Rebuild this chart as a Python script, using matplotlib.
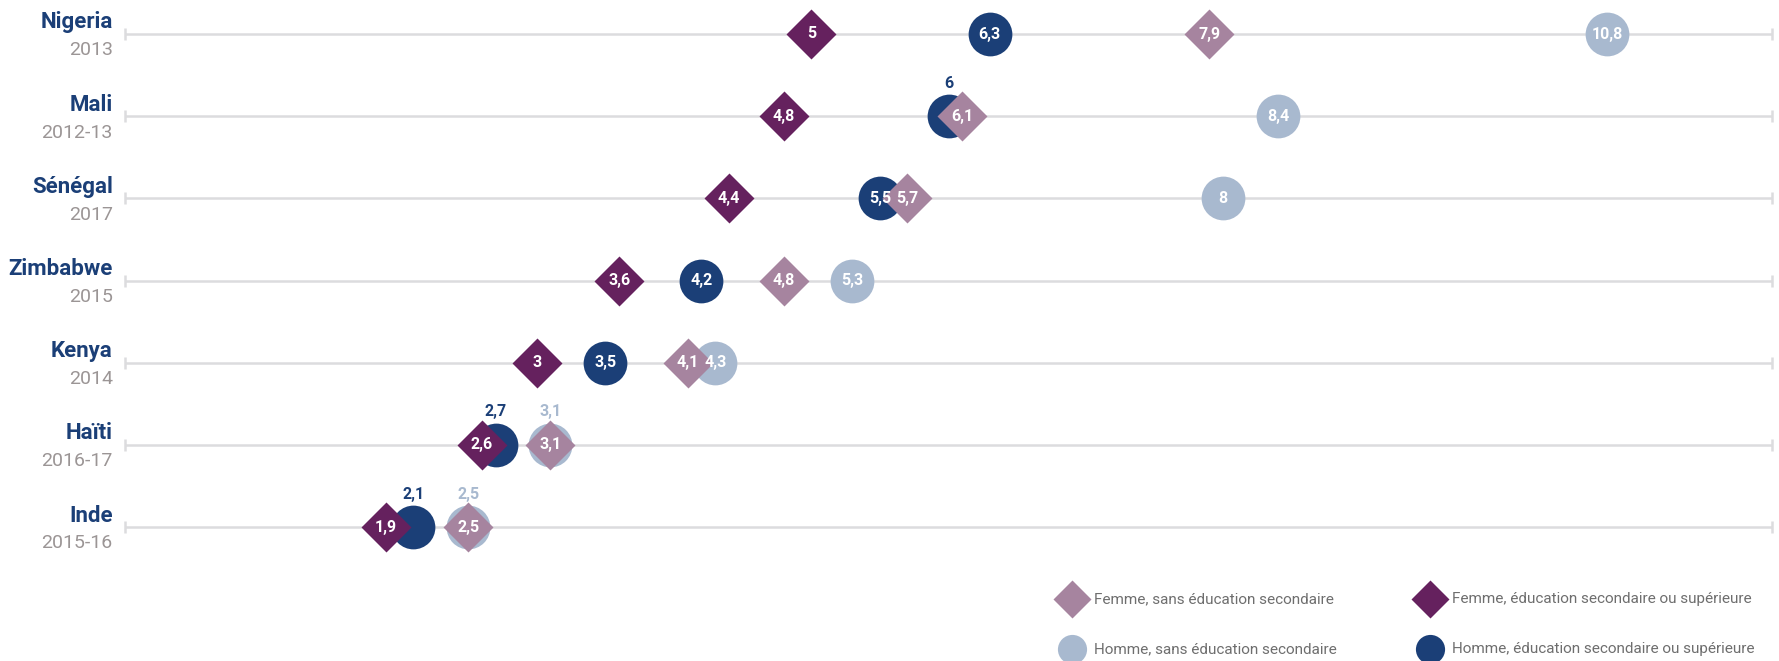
import matplotlib
matplotlib.use("Agg")
import matplotlib.pyplot as plt

plt.rcParams['font.family'] = ['Roboto', 'DejaVu Sans']

# ---- data ----
countries = ["Nigeria", "Mali", "Sénégal", "Zimbabwe", "Kenya", "Haïti", "Inde"]
years = ["2013", "2012-13", "2017", "2015", "2014", "2016-17", "2015-16"]
femme_sans = [7.9, 6.1, 5.7, 4.8, 4.1, 3.1, 2.5]
femme_sec = [5.0, 4.8, 4.4, 3.6, 3.0, 2.6, 1.9]
homme_sans = [10.8, 8.4, 8.0, 5.3, 4.3, 3.1, 2.5]
homme_sec = [6.3, 6.0, 5.5, 4.2, 3.5, 2.7, 2.1]
series_names = ["Femme, sans éducation secondaire",
                "Femme, éducation secondaire ou supérieure",
                "Homme, sans éducation secondaire",
                "Homme, éducation secondaire ou supérieure"]
# circle labels that are hidden behind a diamond and shown above instead
raised_labels = [("homme_sec", "Mali"), ("homme_sec", "Haïti"), ("homme_sans", "Haïti"),
                 ("homme_sec", "Inde"), ("homme_sans", "Inde")]

# ---- style ----
C_FS = "#A6849F"   # femme sans
C_FE = "#65215E"   # femme secondaire
C_HS = "#A8B9CF"   # homme sans
C_HE = "#1B3F77"   # homme secondaire
NAME_C = "#1B3F77"
YEAR_C = "#9B9595"
GRID_C = "#DCDCDE"

W, H = 1779, 661
fig = plt.figure(figsize=(W / 100, H / 100), dpi=100)
left_px, right_px = 125, 1772
ax = fig.add_axes([left_px / W, 0, (right_px - left_px) / W, 1])
row0, step = 34, 82.17
ax.set_xlim(0, 12)
ax.set_ylim(6 + (H - (row0 + 6 * step)) / step, -row0 / step)
ax.axis('off')

CIRC_MS = 31.5
DIAM_MS = 25.5

def fmt(v):
    s = f"{v:.1f}".replace(".", ",")
    return s[:-2] if s.endswith(",0") else s

for i, (c, yr) in enumerate(zip(countries, years)):
    ax.plot([0, 12], [i, i], color=GRID_C, lw=1.8, zorder=1, solid_capstyle='butt')
    ax.plot([0, 12], [i, i], ls='none', marker='|', ms=9, mew=1.8, color=GRID_C,
            zorder=1, clip_on=False)
    ax.text(-0.09, i - 0.14, c, ha='right', va='center', fontsize=16,
            fontweight='bold', color=NAME_C, fontstretch='condensed')
    ax.text(-0.09, i + 0.2, yr, ha='right', va='center', fontsize=14,
            color=YEAR_C, fontstretch='condensed')

series = [
    ("homme_sans", homme_sans, 'o', CIRC_MS, C_HS, 2),
    ("homme_sec", homme_sec, 'o', CIRC_MS, C_HE, 3),
    ("femme_sans", femme_sans, 'D', DIAM_MS, C_FS, 4),
    ("femme_sec", femme_sec, 'D', DIAM_MS, C_FE, 5),
]
ys = list(range(len(countries)))
for key, vals, mk, ms, col, z in series:
    ax.plot(vals, ys, ls='none', marker=mk, ms=ms, color=col, mec='none',
            zorder=z, clip_on=False)
    for i, v in enumerate(vals):
        if (key, countries[i]) in raised_labels:
            ax.text(v, i - 0.4, fmt(v), ha='center', va='center', fontsize=11.5,
                    fontweight='bold', color=col, zorder=10)
        else:
            ax.text(v, i, fmt(v), ha='center', va='center', fontsize=11.5,
                    fontweight='bold', color='white', zorder=10)

# ---- legend ----
lax = fig.add_axes([0, 0, 1, 1])
lax.set_xlim(0, W)
lax.set_ylim(H, 0)
lax.axis('off')
leg_items = [
    (1072, 599, 'D', 19, C_FS, series_names[0]),
    (1430, 599, 'D', 19, C_FE, series_names[1]),
    (1072, 649, 'o', 21, C_HS, series_names[2]),
    (1430, 649, 'o', 21, C_HE, series_names[3]),
]
for x, y, mk, ms, col, lab in leg_items:
    lax.plot([x], [y], marker=mk, ms=ms, color=col, mec='none', ls='none', clip_on=False)
    lax.text(x + 22, y, lab, ha='left', va='center', fontsize=11, color='#6E6E6E',
             fontstretch='condensed')

fig.savefig("out.png", dpi=100)
